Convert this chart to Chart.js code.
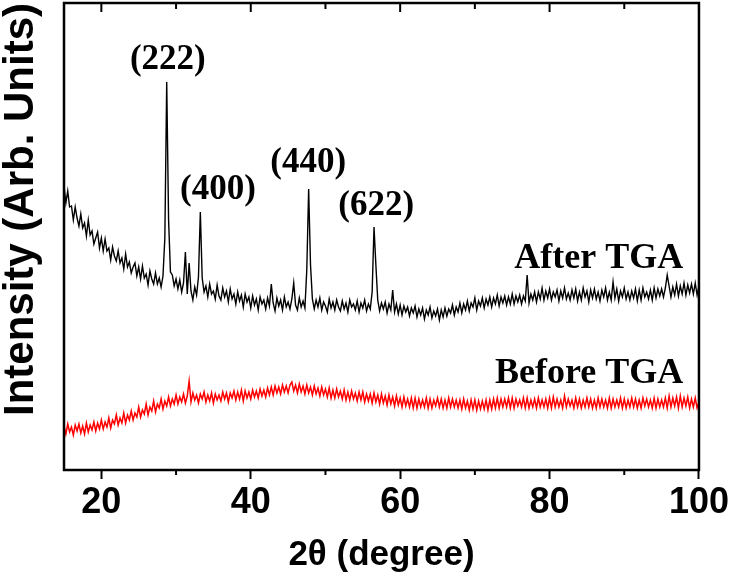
<!DOCTYPE html>
<html>
<head>
<meta charset="utf-8">
<script src="https://cdn.jsdelivr.net/npm/chart.js@4.4.1/dist/chart.umd.min.js"></script>
<style>
  html, body { margin: 0; padding: 0; background: #fff; }
  #wrap { width: 731px; height: 576px; }
</style>
</head>
<body>
<div id="wrap"><canvas id="xrdChart"></canvas></div>
<script>
// scan grid, 2theta in degrees (0.25 deg step)
const twoTheta = [
  15, 15.25, 15.5, 15.75, 16, 16.25, 16.5, 16.75, 17, 17.25, 17.5, 17.75,
  18, 18.25, 18.5, 18.75, 19, 19.25, 19.5, 19.75, 20, 20.25, 20.5, 20.75,
  21, 21.25, 21.5, 21.75, 22, 22.25, 22.5, 22.75, 23, 23.25, 23.5, 23.75,
  24, 24.25, 24.5, 24.75, 25, 25.25, 25.5, 25.75, 26, 26.25, 26.5, 26.75,
  27, 27.25, 27.5, 27.75, 28, 28.25, 28.5, 28.75, 29, 29.25, 29.5, 29.75,
  30, 30.25, 30.5, 30.75, 31, 31.25, 31.5, 31.75, 32, 32.25, 32.5, 32.75,
  33, 33.25, 33.5, 33.75, 34, 34.25, 34.5, 34.75, 35, 35.25, 35.5, 35.75,
  36, 36.25, 36.5, 36.75, 37, 37.25, 37.5, 37.75, 38, 38.25, 38.5, 38.75,
  39, 39.25, 39.5, 39.75, 40, 40.25, 40.5, 40.75, 41, 41.25, 41.5, 41.75,
  42, 42.25, 42.5, 42.75, 43, 43.25, 43.5, 43.75, 44, 44.25, 44.5, 44.75,
  45, 45.25, 45.5, 45.75, 46, 46.25, 46.5, 46.75, 47, 47.25, 47.5, 47.75,
  48, 48.25, 48.5, 48.75, 49, 49.25, 49.5, 49.75, 50, 50.25, 50.5, 50.75,
  51, 51.25, 51.5, 51.75, 52, 52.25, 52.5, 52.75, 53, 53.25, 53.5, 53.75,
  54, 54.25, 54.5, 54.75, 55, 55.25, 55.5, 55.75, 56, 56.25, 56.5, 56.75,
  57, 57.25, 57.5, 57.75, 58, 58.25, 58.5, 58.75, 59, 59.25, 59.5, 59.75,
  60, 60.25, 60.5, 60.75, 61, 61.25, 61.5, 61.75, 62, 62.25, 62.5, 62.75,
  63, 63.25, 63.5, 63.75, 64, 64.25, 64.5, 64.75, 65, 65.25, 65.5, 65.75,
  66, 66.25, 66.5, 66.75, 67, 67.25, 67.5, 67.75, 68, 68.25, 68.5, 68.75,
  69, 69.25, 69.5, 69.75, 70, 70.25, 70.5, 70.75, 71, 71.25, 71.5, 71.75,
  72, 72.25, 72.5, 72.75, 73, 73.25, 73.5, 73.75, 74, 74.25, 74.5, 74.75,
  75, 75.25, 75.5, 75.75, 76, 76.25, 76.5, 76.75, 77, 77.25, 77.5, 77.75,
  78, 78.25, 78.5, 78.75, 79, 79.25, 79.5, 79.75, 80, 80.25, 80.5, 80.75,
  81, 81.25, 81.5, 81.75, 82, 82.25, 82.5, 82.75, 83, 83.25, 83.5, 83.75,
  84, 84.25, 84.5, 84.75, 85, 85.25, 85.5, 85.75, 86, 86.25, 86.5, 86.75,
  87, 87.25, 87.5, 87.75, 88, 88.25, 88.5, 88.75, 89, 89.25, 89.5, 89.75,
  90, 90.25, 90.5, 90.75, 91, 91.25, 91.5, 91.75, 92, 92.25, 92.5, 92.75,
  93, 93.25, 93.5, 93.75, 94, 94.25, 94.5, 94.75, 95, 95.25, 95.5, 95.75,
  96, 96.25, 96.5, 96.75, 97, 97.25, 97.5, 97.75, 98, 98.25, 98.5, 98.75,
  99, 99.25, 99.5, 99.75, 100
];

// intensity (arb. units) after TGA
const afterTGA = [
  284, 267, 279, 263, 264, 250, 263, 252, 244, 256, 242, 247,
  234, 250, 235, 239, 226, 232, 238, 222, 232, 219, 231, 219,
  222, 210, 223, 214, 209, 219, 207, 212, 201, 216, 203, 208,
  197, 203, 207, 194, 203, 191, 204, 192, 196, 185, 199, 191,
  186, 197, 186, 192, 183, 194, 232, 388, 250, 198, 195, 184,
  191, 181, 190, 178, 187, 218, 176, 207, 179, 170, 183, 175,
  193, 258, 192, 178, 184, 173, 186, 176, 179, 171, 185, 174,
  170, 182, 173, 179, 168, 181, 171, 176, 166, 178, 169, 175,
  163, 176, 168, 173, 162, 174, 165, 171, 160, 173, 166, 170,
  161, 172, 164, 186, 167, 159, 172, 164, 170, 160, 173, 163,
  168, 161, 171, 187, 165, 160, 172, 163, 169, 162, 200, 281,
  205, 171, 161, 170, 163, 172, 160, 168, 164, 158, 171, 162,
  168, 160, 170, 163, 159, 169, 161, 167, 158, 170, 163, 166,
  160, 169, 158, 167, 162, 170, 159, 166, 161, 178, 243, 205,
  170, 159, 167, 161, 168, 157, 166, 160, 180, 158, 166, 156,
  165, 155, 164, 158, 163, 154, 162, 157, 164, 153, 161, 155,
  162, 151, 160, 155, 163, 152, 159, 154, 161, 150, 160, 153,
  162, 154, 161, 157, 165, 155, 163, 158, 167, 157, 166, 160,
  169, 159, 167, 163, 172, 160, 169, 164, 172, 162, 171, 165,
  173, 163, 172, 166, 175, 164, 173, 167, 174, 165, 173, 166,
  176, 166, 174, 168, 175, 166, 174, 169, 195, 167, 176, 170,
  178, 168, 178, 171, 182, 170, 179, 172, 181, 170, 178, 173,
  180, 169, 179, 172, 182, 171, 177, 170, 180, 172, 181, 169,
  178, 170, 182, 173, 179, 168, 180, 172, 181, 171, 178, 169,
  180, 173, 182, 170, 178, 170, 188, 172, 181, 169, 179, 173,
  182, 171, 178, 170, 179, 172, 181, 169, 180, 170, 182, 173,
  178, 171, 180, 170, 182, 172, 181, 174, 181, 173, 182, 195,
  184, 173, 183, 175, 186, 174, 184, 176, 187, 175, 185, 177,
  186, 176, 187, 175, 184
];

// intensity (arb. units) before TGA
const beforeTGA = [
  44, 36, 46, 38, 43, 35, 45, 39, 46, 37, 44, 36,
  47, 38, 45, 40, 48, 39, 47, 41, 50, 41, 48, 43,
  52, 42, 50, 46, 55, 45, 52, 47, 57, 47, 55, 50,
  59, 50, 57, 53, 63, 53, 60, 56, 66, 55, 63, 59,
  69, 58, 66, 62, 71, 61, 69, 64, 73, 64, 71, 66,
  75, 66, 73, 68, 76, 67, 74, 89, 68, 77, 70, 75,
  67, 76, 71, 78, 68, 75, 69, 77, 67, 76, 70, 75,
  69, 78, 71, 77, 68, 77, 72, 79, 70, 78, 71, 80,
  69, 79, 72, 78, 71, 80, 73, 79, 72, 81, 74, 80,
  73, 82, 75, 83, 75, 84, 77, 83, 76, 85, 78, 84,
  77, 85, 88, 79, 85, 77, 86, 78, 84, 76, 85, 77,
  83, 75, 84, 76, 82, 74, 83, 75, 81, 73, 82, 72,
  80, 72, 81, 73, 79, 71, 80, 70, 78, 70, 79, 71,
  77, 69, 78, 70, 78, 68, 76, 69, 76, 67, 77, 68,
  75, 66, 76, 67, 74, 65, 75, 66, 73, 64, 74, 65,
  72, 63, 73, 64, 71, 63, 72, 62, 72, 62, 71, 63,
  70, 63, 72, 62, 71, 62, 70, 64, 72, 63, 71, 62,
  70, 62, 72, 63, 71, 63, 70, 62, 70, 61, 71, 62,
  69, 60, 70, 61, 70, 60, 69, 61, 69, 61, 70, 60,
  70, 61, 71, 62, 72, 62, 71, 63, 71, 63, 72, 62,
  72, 62, 71, 64, 70, 63, 72, 62, 72, 62, 70, 63,
  71, 62, 72, 63, 70, 63, 71, 62, 72, 62, 73, 63,
  71, 63, 70, 62, 74, 63, 71, 64, 70, 62, 72, 63,
  71, 62, 70, 63, 72, 63, 71, 62, 70, 62, 72, 63,
  71, 63, 70, 62, 72, 62, 71, 63, 70, 63, 72, 62,
  71, 62, 70, 63, 72, 63, 71, 62, 70, 62, 72, 64,
  71, 63, 70, 62, 72, 62, 71, 63, 70, 63, 72, 62,
  74, 63, 72, 64, 73, 62, 74, 63, 72, 64, 73, 62,
  71, 63, 72, 62, 68
];

const majorTicks = [20, 40, 60, 80, 100];
const minorTicks = [30, 50, 70, 90];

// reflection labels: [text, 2theta, intensity] of the label centre
const peakLabels = [
  ['(222)', 28.9, 410],
  ['(400)', 35.6, 280],
  ['(440)', 47.7, 307],
  ['(622)', 56.8, 264],
];
// curve names: [text, right edge 2theta, baseline intensity]
const curveLabels = [
  ['After TGA', 97.9, 202],
  ['Before TGA', 97.9, 87],
];

const toPoints = (ys) => ys.map((v, i) => ({ x: twoTheta[i], y: v }));

const frameAndLabels = {
  id: 'frameAndLabels',
  afterDraw(chart) {
    const { ctx, chartArea: a, scales: { x, y } } = chart;
    ctx.save();
    ctx.strokeStyle = '#000';
    ctx.lineWidth = 2.5;
    ctx.strokeRect(a.left, a.top, a.right - a.left, a.bottom - a.top);

    ctx.lineWidth = 2;
    ctx.beginPath();
    minorTicks.forEach((v) => {
      const px = x.getPixelForValue(v);
      ctx.moveTo(px, a.bottom);
      ctx.lineTo(px, a.bottom + 5);
      ctx.moveTo(px, a.top);
      ctx.lineTo(px, a.top + 6);
    });
    majorTicks.forEach((v) => {
      const px = x.getPixelForValue(v);
      ctx.moveTo(px, a.top);
      ctx.lineTo(px, a.top + 9);
    });
    ctx.stroke();

    ctx.fillStyle = '#000';
    ctx.font = 'bold 35px "Liberation Serif"';
    ctx.textAlign = 'center';
    ctx.textBaseline = 'middle';
    peakLabels.forEach(([t, px, py]) => {
      ctx.fillText(t, x.getPixelForValue(px), y.getPixelForValue(py));
    });

    ctx.font = 'bold 36px "Liberation Serif"';
    ctx.textAlign = 'right';
    ctx.textBaseline = 'alphabetic';
    curveLabels.forEach(([t, px, py]) => {
      ctx.fillText(t, x.getPixelForValue(px), y.getPixelForValue(py));
    });
    ctx.restore();
  },
};

const xrdCtx = document.getElementById('xrdChart').getContext('2d');

const xrdChart = new Chart(xrdCtx, {
  type: 'line',
  data: {
    datasets: [
      {
        label: 'After TGA',
        data: toPoints(afterTGA),
        borderColor: '#000000',
        borderWidth: 1.4,
      },
      {
        label: 'Before TGA',
        data: toPoints(beforeTGA),
        borderColor: '#ff0000',
        borderWidth: 1.5,
      },
    ],
  },
  options: {
    responsive: true,
    maintainAspectRatio: false,
    animation: false,
    layout: {
      padding: { top: 3, right: 32, left: 0, bottom: 0 },
    },
    elements: {
      point: { radius: 0 },
      line: { tension: 0 },
    },
    plugins: {
      legend: { display: false },
      tooltip: { enabled: false },
    },
    scales: {
      x: {
        type: 'linear',
        min: 15,
        max: 100,
        border: { display: false },
        grid: {
          drawOnChartArea: false,
          drawTicks: true,
          tickLength: 9,
          tickWidth: 2,
          tickColor: '#000',
        },
        ticks: {
          stepSize: 20,
          includeBounds: false,
          maxRotation: 0,
          color: '#000',
          padding: 2,
          font: { family: '"Liberation Sans"', size: 36, weight: 'bold' },
        },
        title: {
          display: true,
          text: '2θ (degree)',
          color: '#000',
          padding: { top: 0, bottom: 3 },
          font: { family: '"Liberation Sans"', size: 35, weight: 'bold', lineHeight: 1 },
        },
        afterFit(scale) {
          scale.height = 106;
        },
      },
      y: {
        min: 0,
        max: 467,
        border: { display: false },
        grid: { display: false },
        ticks: { display: false },
        title: {
          display: true,
          text: 'Intensity (Arb. Units)',
          align: 'end',
          color: '#000',
          padding: 0,
          font: { family: '"Liberation Sans"', size: 42, weight: 'bold', lineHeight: 1 },
        },
        afterFit(scale) {
          scale.width = 64;
        },
      },
    },
  },
  plugins: [frameAndLabels],
});
</script>
</body>
</html>
